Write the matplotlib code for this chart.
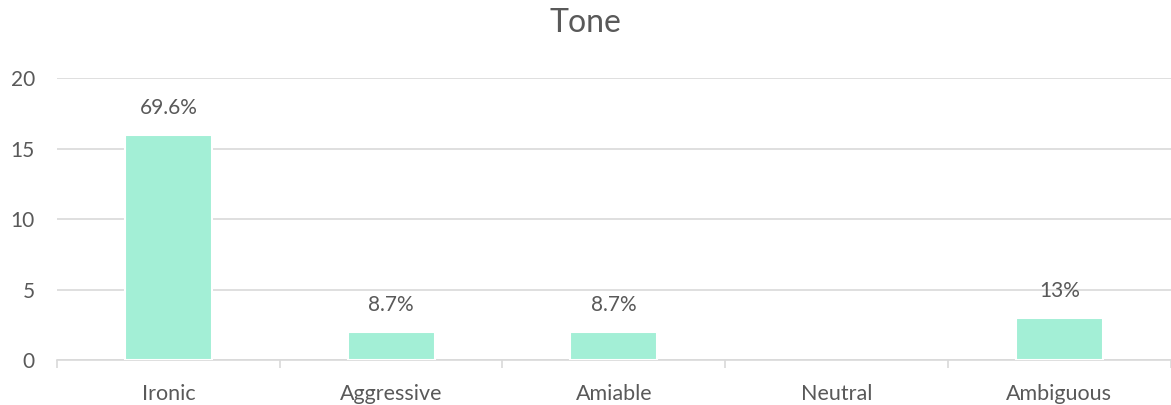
import matplotlib
matplotlib.use("Agg")
import matplotlib.pyplot as plt
import numpy as np

categories = ["Ironic", "Aggressive", "Amiable", "Neutral", "Ambiguous"]
counts = [16, 2, 2, 0, 3]
labels = ["69.6%", "8.7%", "8.7%", "", "13%"]

text_color = "#595959"
grid_color = "#D9D9D9"
bar_color = "#A3EFD6"

plt.rcParams["font.family"] = ["Lato", "DejaVu Sans"]

fig = plt.figure(figsize=(11.71, 4.05), dpi=100)
ax = fig.add_axes([0.0487, 0.111, 0.951, 0.696])

x = np.arange(len(categories))
edge_widths = [1.5 if v > 0 else 0 for v in counts]
ax.bar(x, counts, width=0.39, color=bar_color, edgecolor="white",
       linewidth=edge_widths, zorder=3)

for xi, v, lab in zip(x, counts, labels):
    if lab:
        ax.text(xi, v + 1.2, lab, ha="center", va="bottom", fontsize=15,
                color=text_color, zorder=4)

ax.set_xlim(-0.5, len(categories) - 0.5)
ax.set_ylim(0, 20)
ax.set_yticks([0, 5, 10, 15, 20])
ax.yaxis.grid(True, color=grid_color, linewidth=1.2, zorder=0)
ax.set_axisbelow(True)

ax.set_xticks(x)
ax.set_xticklabels(categories)
ax.set_xticks(np.arange(-0.5, len(categories), 1.0), minor=True)
ax.tick_params(axis="x", which="major", length=0, pad=17, labelsize=15.5,
               labelcolor=text_color)
ax.tick_params(axis="x", which="minor", length=6, color=grid_color, width=1.2)
ax.tick_params(axis="y", length=0, pad=16, labelsize=15, labelcolor=text_color)

for side in ["top", "right", "left"]:
    ax.spines[side].set_visible(False)
ax.spines["bottom"].set_color(grid_color)
ax.spines["bottom"].set_linewidth(1.2)

fig.text(0.5, 0.943, "Tone", ha="center", va="center", fontsize=23,
         color=text_color)

fig.savefig("out.png", dpi=100, facecolor="white")
